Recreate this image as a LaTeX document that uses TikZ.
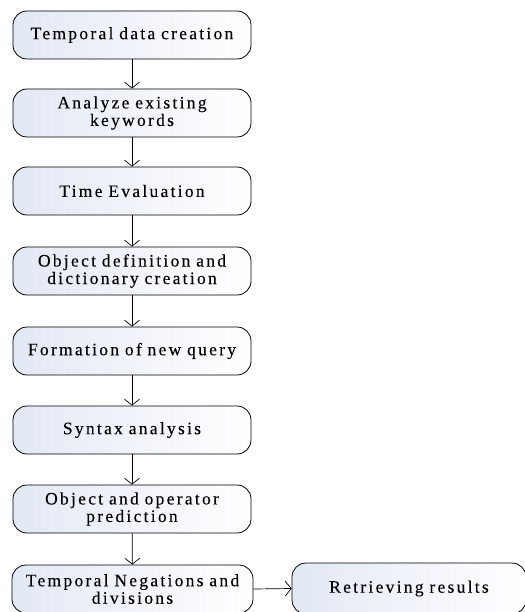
\documentclass[tikz,border=0pt]{standalone}
\usepackage{fontspec}
\setmainfont{Liberation Serif}[LetterSpace=13, FakeBold=0.15]
\usepackage{xcolor}
\usepackage{tikz}
\usetikzlibrary{arrows.meta}

\definecolor{boxshade}{RGB}{226,232,244}

\tikzset{
	stage/.style={draw, rounded corners=14pt, line width=0.8pt,
		left color=boxshade, right color=white,
		minimum width=238pt, minimum height=48pt, text width=234pt,
		align=center, inner sep=0pt,
		font=\fontsize{17.5}{17.5}\selectfont},
	flow/.style={draw, line width=0.7pt, -{Straight Barb[length=6pt,width=15pt]}}
}

\begin{document}
\begin{tikzpicture}[x=1pt, y=-1pt]
		\useasboundingbox (0, 0) rectangle (524, 612);
		% Picture nodes
		%% Main column
		\node[stage] (T1) at (132, 35) {Temporal data creation};
		\node[stage] (T2) at (132, 113) {Analyze existing\\keywords};
		\node[stage] (T3) at (132, 191) {Time Evaluation};
		\node[stage] (T4) at (132, 271) {Object definition and\\dictionary creation};
		\node[stage] (T5) at (132, 351) {Formation of new query};
		\node[stage] (T6) at (132, 430) {Syntax analysis};
		\node[stage] (T7) at (132, 509) {Object and operator\\prediction};
		\node[stage, minimum width=241pt] (T8) at (132.5, 589) {Temporal Negations and\\divisions};
		%% Result
		\node[stage, minimum width=234pt, minimum height=51pt] (R) at (409, 588.5) {Retrieving results};
		% Picture arcs
		%% Main column arrows
		\draw[flow] (T1) to (T2);
		\draw[flow] (T2) to (T3);
		\draw[flow] (T3) to (T4);
		\draw[flow] (T4) to (T5);
		\draw[flow] (T5) to (T6);
		\draw[flow] (T6) to (T7);
		\draw[flow] (T7) to (T8);
		%% Output arrow
		\draw[flow] (T8.east) to (R.west);
	\end{tikzpicture}
\end{document}
